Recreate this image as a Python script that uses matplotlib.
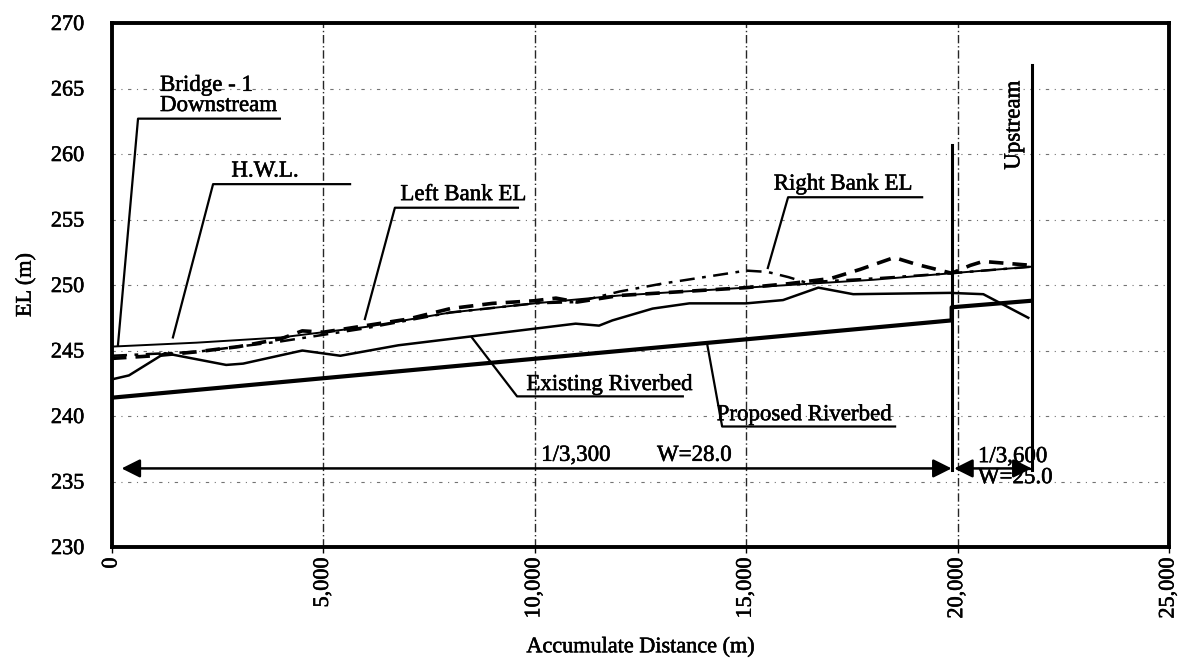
import matplotlib
matplotlib.use("Agg")
import matplotlib.pyplot as plt
import matplotlib.patheffects as pe
from matplotlib.ticker import FuncFormatter

plt.rcParams['font.family'] = ['Liberation Serif', 'DejaVu Serif']

# ----- data -----
bed_x = [0, 400, 1250, 2700, 3100, 4500, 5400, 6772, 10965, 11519, 11835, 12785,
         13655, 15000, 15870, 16705, 17530, 19820, 20607, 21670]
bed_y = [242.8, 243.1, 244.8, 243.9, 244.0, 245.0, 244.6, 245.4, 247.05, 246.9, 247.3, 248.2,
         248.6, 248.6, 248.85, 249.8, 249.3, 249.4, 249.3, 247.5]

prop_x = [0, 19858, 19858, 21750]
prop_y = [241.4, 247.3, 248.3, 248.8]

hwl_x = [0, 2000, 4000, 6000, 8000, 10000, 12000, 14000, 16000, 18000, 19858, 21750]
hwl_y = [245.3, 245.6, 246.0, 246.8, 247.9, 248.6, 249.2, 249.6, 250.0, 250.4, 250.9, 251.4]

left_x = [0, 1000, 2000, 3000, 4000, 4500, 5000, 6000, 7000, 8000, 9000, 10000, 10500,
          11000, 12000, 13000, 14000, 15000, 16000, 17000, 17700, 18500, 19000, 19858,
          20300, 20600, 21750]
left_y = [244.4, 244.6, 244.9, 245.3, 245.9, 246.5, 246.4, 246.9, 247.4, 248.2, 248.6, 248.8, 249.0,
          248.7, 249.2, 249.4, 249.6, 249.8, 250.1, 250.5, 251.2, 252.1, 251.6, 250.9,
          251.5, 251.8, 251.5]

right_x = [0, 2000, 4000, 6000, 8000, 10000, 11000, 12000, 13000, 14000, 15000, 15500,
           16000, 16400, 18000, 19858, 21750]
right_y = [244.6, 244.9, 245.7, 246.7, 247.9, 248.6, 248.7, 249.5, 250.1, 250.6, 251.1, 251.0,
           250.6, 250.2, 250.5, 250.9, 251.4]

# section break / upstream end
brk_x = 19858
brk_y = [235.9, 260.7]
up_x = 21750
up_y = [235.9, 266.8]

# label leaders: (x list, y list)
leaders = {
    'bridge': ([3970, 615, 140], [262.7, 262.7, 245.4]),
    'hwl': ([5630, 2390, 1440], [257.7, 257.7, 246.0]),
    'left': ([9600, 6690, 5980], [255.9, 255.9, 247.4]),
    'right': ([19160, 15990, 15510], [256.7, 256.7, 251.3]),
    'bed': ([8510, 9580, 13500], [246.0, 241.5, 241.5]),
    'prop': ([14070, 14430, 18520], [245.6, 239.2, 239.2]),
}

xticks = [0, 5000, 10000, 15000, 20000, 25000]
yticks = [230, 235, 240, 245, 250, 255, 260, 265, 270]

# ----- figure -----
fig = plt.figure(figsize=(11.78, 6.65), dpi=100)
ax = fig.add_axes([0.0951, 0.1774, 0.8973, 0.7880])

# grid
for yv in yticks[1:-1]:
    ax.axhline(yv, color='0.45', lw=0.8, ls=(0, (3, 5, 1, 5)), zorder=1)
for xv in xticks[1:-1]:
    ax.axvline(xv, color='0.15', lw=1.0, ls=(0, (6, 2, 1, 2)), zorder=1)

ax.plot(prop_x, prop_y, color='k', lw=3.0, zorder=4)
ax.plot(bed_x, bed_y, color='k', lw=1.8, zorder=4)
ax.plot(hwl_x, hwl_y, color='k', lw=1.4, zorder=4)
ax.plot(left_x, left_y, color='k', lw=2.6, ls=(0, (4, 2.5)), zorder=5)
ax.plot(right_x, right_y, color='k', lw=1.8, ls=(0, (6, 3, 1.5, 3)), zorder=5)

ax.plot([brk_x, brk_x], brk_y, color='k', lw=2.2, zorder=4)
ax.plot([up_x, up_x], up_y, color='k', lw=2.2, zorder=4)

for lx, ly in leaders.values():
    ax.plot(lx, ly, color='k', lw=1.6, zorder=4)

# slope arrows
ax.annotate('', xy=(225, 236.0), xytext=(brk_x, 236.0),
            arrowprops=dict(arrowstyle='<|-|>', color='k', lw=1.8, mutation_scale=28,
                            shrinkA=0, shrinkB=0))
ax.annotate('', xy=(brk_x + 60, 236.0), xytext=(up_x, 236.0),
            arrowprops=dict(arrowstyle='<|-|>', color='k', lw=1.8, mutation_scale=28,
                            shrinkA=0, shrinkB=0))

fs = 16.5
ink = [pe.withStroke(linewidth=0.4, foreground='k')]
txt = dict(fontsize=fs, path_effects=ink)
ax.text(1135, 262.9, 'Bridge - 1\nDownstream', ha='left', va='bottom', linespacing=0.95, **txt)
ax.text(3620, 257.9, 'H.W.L.', ha='center', va='bottom', **txt)
ax.text(6820, 256.1, 'Left Bank EL', ha='left', va='bottom', **txt)
ax.text(15650, 256.9, 'Right Bank EL', ha='left', va='bottom', **txt)
ax.text(9800, 241.6, 'Existing Riverbed', ha='left', va='bottom', **txt)
ax.text(14300, 239.3, 'Proposed Riverbed', ha='left', va='bottom', **txt)
ax.text(10150, 236.2, '1/3,300', ha='left', va='bottom', **txt)
ax.text(12890, 236.2, 'W=28.0', ha='left', va='bottom', **txt)
ax.text(20480, 236.1, '1/3,600', ha='left', va='bottom', **txt)
ax.text(20480, 236.1, 'W=25.0', ha='left', va='top', **txt)
ax.text(21330, 262.2, 'Upstream', rotation=90, ha='center', va='center', **txt)

ax.set_xlim(0, 25000)
ax.set_ylim(230, 270)
ax.set_xticks(xticks)
ax.set_yticks(yticks)
ax.xaxis.set_major_formatter(FuncFormatter(lambda v, p: f'{int(v):,}'))
ax.tick_params(axis='x', labelrotation=90, labelsize=16, length=4, width=1)
ax.tick_params(axis='y', labelsize=16, length=0, pad=20)
for lab in ax.get_xticklabels() + ax.get_yticklabels():
    lab.set_path_effects(ink)
for s in ax.spines.values():
    s.set_linewidth(2.8)

ax.set_xlabel('Accumulate Distance (m)', fontsize=16, labelpad=14, path_effects=ink)
ax.set_ylabel('EL (m)', fontsize=16, labelpad=11, path_effects=ink)

fig.savefig('out.png', dpi=100)
